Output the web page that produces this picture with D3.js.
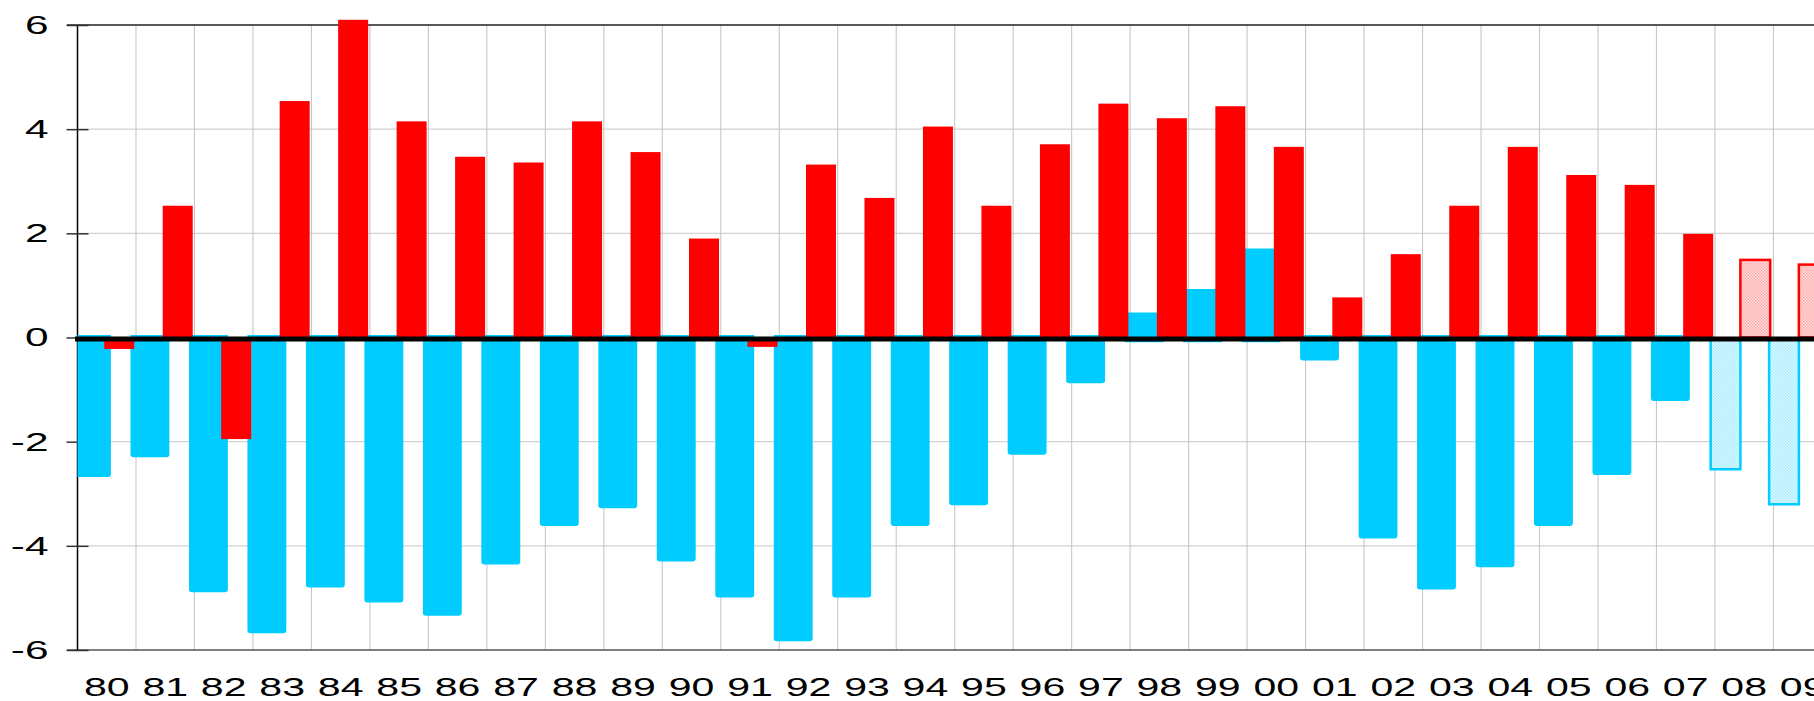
<!DOCTYPE html>
<html>
<head>
<meta charset="utf-8">
<script src="https://cdn.jsdelivr.net/npm/d3@7"></script>
<style>
  html, body { margin: 0; padding: 0; background: #fff; }
  svg { display: block; }
  text { font-family: "Liberation Sans", Arial, sans-serif; fill: #000; }
</style>
</head>
<body>
<div id="chart"></div>
<script>
// years (two digit) on the x axis
const categories = ['80', '81', '82', '83', '84', '85', '86', '87', '88', '89',
  '90', '91', '92', '93', '94', '95', '96', '97', '98', '99',
  '00', '01', '02', '03', '04', '05', '06', '07', '08', '09']

// red series (right bar of each pair)
const redValues = [-0.22, 2.53, -1.95, 4.54, 6.10, 4.15, 3.47, 3.36, 4.15, 3.56,
  1.90, -0.18, 3.32, 2.68, 4.05, 2.53, 3.71, 4.49, 4.21, 4.44,
  3.66, 0.77, 1.60, 2.53, 3.66, 3.12, 2.93, 1.99, 1.49, 1.40]

// cyan series (left bar of each pair)
const blueValues = [-2.68, -2.30, -4.89, -5.68, -4.80, -5.09, -5.34, -4.36, -3.62, -3.28,
  -4.30, -4.99, -5.83, -4.99, -3.62, -3.22, -2.25, -0.88, 0.48, 0.93,
  1.71, -0.44, -3.86, -4.84, -4.41, -3.62, -2.64, -1.22, -2.53, -3.20]

// years drawn as hatched (forecast) bars
const projected = ['08', '09']

const yTicks = [-6, -4, -2, 0, 2, 4, 6]

const W = 1814, H = 701
const left = 77.5, bandW = 58.48

const svg = d3.select('#chart').append('svg')
  .attr('width', W).attr('height', H)

const x = d3.scaleBand().domain(categories)
  .range([left, left + categories.length * bandW])
  .paddingInner(0).paddingOuter(0)
const y = d3.scaleLinear().domain([-6, 6]).range([650, 25])

const defs = svg.append('defs')
function hatch(id, bg, fg) {
  const p = defs.append('pattern').attr('id', id)
    .attr('width', 3).attr('height', 3).attr('patternUnits', 'userSpaceOnUse')
  p.append('rect').attr('width', 3).attr('height', 3).attr('fill', bg)
  p.append('rect').attr('width', 1.5).attr('height', 1.5).attr('fill', fg)
  p.append('rect').attr('x', 1.5).attr('y', 1.5).attr('width', 1.5).attr('height', 1.5).attr('fill', fg)
}
hatch('hatchRed', '#ffdede', '#ffaaaa')
hatch('hatchBlue', '#e2f9ff', '#a6ecff')

defs.append('clipPath').attr('id', 'plotClip')
  .append('rect').attr('x', left).attr('y', 0).attr('width', W - left).attr('height', H)

const xEnd = x.range()[1]

// horizontal grid
svg.append('g').selectAll('line')
  .data(yTicks.filter(d => Math.abs(d) !== 6 && d !== 0))
  .join('line')
  .attr('x1', left).attr('x2', xEnd)
  .attr('y1', d => y(d)).attr('y2', d => y(d))
  .attr('stroke', '#d2d2d2').attr('stroke-width', 1.3)

// vertical grid at band boundaries
svg.append('g').selectAll('line')
  .data(categories.slice(1).concat(['end']))
  .join('line')
  .attr('x1', d => d === 'end' ? xEnd : x(d)).attr('x2', d => d === 'end' ? xEnd : x(d))
  .attr('y1', y(6)).attr('y2', y(-6))
  .attr('stroke', '#c8c8c8').attr('stroke-width', 1.1)

// frame lines top and bottom
svg.append('line').attr('x1', 67).attr('x2', xEnd).attr('y1', y(6)).attr('y2', y(6))
  .attr('stroke', '#222').attr('stroke-width', 1.5)
svg.append('line').attr('x1', 67).attr('x2', xEnd).attr('y1', y(-6)).attr('y2', y(-6))
  .attr('stroke', '#555').attr('stroke-width', 1.5)

// y axis
const yAxis = svg.append('g').attr('transform', `translate(${left},0)`)
  .call(d3.axisLeft(y).tickValues(yTicks).tickSize(0).tickFormat(d => String(d)))
yAxis.select('.domain').attr('stroke', '#000').attr('stroke-width', 1.5)
  .attr('d', `M0,${y(6)}V${y(-6)}`)
yAxis.selectAll('.tick line').attr('x1', -11).attr('x2', 11)
  .attr('stroke', '#333').attr('stroke-width', 1.5)
yAxis.selectAll('.tick text')
  .attr('x', 0).attr('dy', '0.32em')
  .attr('transform', 'translate(-29,0) scale(1.6,1)')
  .style('font-size', '26.5px').attr('text-anchor', 'end')
  .attr('fill', '#000')

// bar path with rounded corners on the far end
function barPath(x0, w, yBase, yTip, r) {
  const dir = yTip > yBase ? 1 : -1
  const rr = Math.min(r, Math.abs(yTip - yBase) / 2)
  return `M${x0},${yBase}V${yTip - dir * rr}Q${x0},${yTip} ${x0 + rr},${yTip}` +
    `H${x0 + w - rr}Q${x0 + w},${yTip} ${x0 + w},${yTip - dir * rr}V${yBase}Z`
}

const rows = categories.map((c, i) => ({ cat: c, red: redValues[i], blue: blueValues[i], proj: projected.includes(c) }))
const bw = x.bandwidth()
const plot = svg.append('g').attr('clip-path', 'url(#plotClip)')

// cyan bars
plot.append('g').selectAll('path')
  .data(rows)
  .join('path')
  .attr('d', d => {
    const x0 = x(d.cat) - 0.094 * bw
    const w = d.proj ? 0.55 * bw : 0.665 * bw
    const base = d.blue < 0 ? y(0.05) : y(-0.09)
    return d.proj
      ? barPath(x0 + 1.2, w - 2.4, y(0) + 1, y(d.blue), 0)
      : barPath(x0, w, base, y(d.blue), 3)
  })
  .attr('fill', d => d.proj ? 'url(#hatchBlue)' : '#00ccff')
  .attr('stroke', d => d.proj ? '#00ccff' : 'none')
  .attr('stroke-width', 2.5)

// red bars
plot.append('g').selectAll('rect')
  .data(rows)
  .join('rect')
  .attr('x', d => x(d.cat) + (d.proj ? 0.435 : 0.457) * bw)
  .attr('width', d => d.proj ? 0.51 * bw : 0.513 * bw)
  .attr('y', d => Math.min(y(d.red), y(0)))
  .attr('height', d => Math.abs(y(d.red) - y(0)))
  .attr('fill', d => d.proj ? 'url(#hatchRed)' : '#ff0000')
  .attr('stroke', d => d.proj ? '#ff0000' : 'none')
  .attr('stroke-width', 2.5)

// zero line
svg.append('line').attr('x1', 75).attr('x2', xEnd)
  .attr('y1', y(0) + 1.5).attr('y2', y(0) + 1.5)
  .attr('stroke', '#000').attr('stroke-width', 5)

// x labels
svg.append('g').selectAll('text')
  .data(categories)
  .join('text')
  .attr('transform', d => `translate(${x(d) + bw / 2},695.5) scale(1.55,1)`)
  .attr('text-anchor', 'middle')
  .style('font-size', '26.5px')
  .text(d => d)
</script>
</body>
</html>
